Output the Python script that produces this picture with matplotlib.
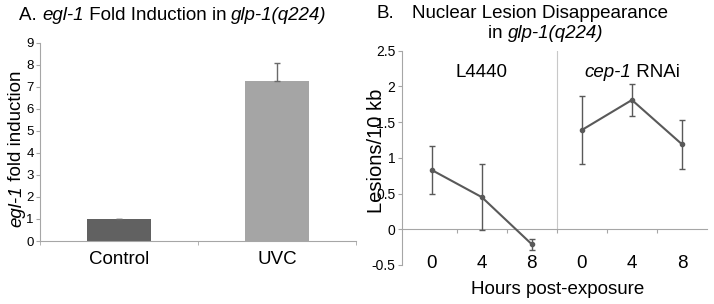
import matplotlib
matplotlib.use("Agg")
import matplotlib.pyplot as plt
import matplotlib.transforms as mtransforms
import numpy as np

plt.rcParams['font.family'] = ['Liberation Sans', 'DejaVu Sans']

# ---- Panel A data ----
a_categories = ["Control", "UVC"]
a_values = [1.0, 7.27]
a_err_up = [0.02, 0.83]
a_yticks = [0, 1, 2, 3, 4, 5, 6, 7, 8, 9]

# ---- Panel B data ----
b_hours = ["0", "4", "8"]
b_group_left = [("L4440", False)]
b_group_right = [("cep-1", True), (" RNAi", False)]
b_l4440 = [0.83, 0.45, -0.21]
b_l4440_err = [0.33, 0.46, 0.075]
b_cep1 = [1.39, 1.81, 1.19]
b_cep1_err = [0.47, 0.22, 0.34]
b_yticks = [-0.5, 0, 0.5, 1, 1.5, 2, 2.5]
b_yticklabels = ["-0.5", "0", "0.5", "1", "1.5", "2", "2.5"]

W, H = 714, 304
fig = plt.figure(figsize=(W / 100, H / 100), dpi=100)
renderer = fig.canvas.get_renderer()

def fx(x):
    return x / W

def fy(y):
    return 1 - y / H

def px_axes(l, t, r, b):
    return fig.add_axes([l / W, 1 - b / H, (r - l) / W, (b - t) / H])

def piece_width(s, italic, size):
    st = "italic" if italic else "normal"
    t1 = fig.text(0, 0, "|" + s + "|", fontsize=size, style=st)
    t2 = fig.text(0, 0, "||", fontsize=size, style=st)
    w = t1.get_window_extent(renderer).width - t2.get_window_extent(renderer).width
    t1.remove()
    t2.remove()
    return w

def rich_width(pieces, size):
    return sum(piece_width(s, it, size) for s, it in pieces)

def rich_text(x, y, pieces, size, vertical=False):
    """x, y: baseline start in pixels from top-left."""
    for s, it in pieces:
        st = "italic" if it else "normal"
        fig.text(fx(x), fy(y), s, fontsize=size, style=st,
                 rotation=90 if vertical else 0, rotation_mode="anchor",
                 ha="left", va="baseline")
        w = piece_width(s, it, size)
        if vertical:
            y -= w
        else:
            x += w

axis_gray = "#a6a6a6"
big = 13.5

# ---------------- Panel A ----------------
axA = px_axes(40, 42.7, 356, 241)
xa = np.arange(len(a_categories))
axA.bar(xa, a_values, width=0.4, color=["#616161", "#a5a5a5"], zorder=2)
axA.errorbar(xa, a_values, yerr=[np.zeros(len(a_values)), a_err_up], fmt="none",
             ecolor="#6a6a6a", elinewidth=1, capsize=2.5, capthick=1, zorder=3)
axA.set_xlim(-0.5, 1.5)
axA.set_ylim(0, 9)
axA.set_yticks(a_yticks)
axA.set_yticklabels([str(v) for v in a_yticks], fontsize=9.5)
axA.set_xticks(xa)
axA.set_xticklabels(a_categories, fontsize=big)
axA.set_xticks([-0.5, 0.5, 1.5], minor=True)
axA.tick_params(axis="x", which="major", length=0, pad=7)
axA.tick_params(axis="x", which="minor", length=3, color=axis_gray)
axA.tick_params(axis="y", length=3, color=axis_gray, pad=1.5)
for s in ["top", "right"]:
    axA.spines[s].set_visible(False)
for s in ["left", "bottom"]:
    axA.spines[s].set_color(axis_gray)
    axA.spines[s].set_linewidth(0.8)

rich_text(19, 19.5, [("A. ", False), ("egl-1", True), (" Fold Induction in ", False),
                     ("glp-1(q224)", True)], big)
rich_text(21, 227, [("egl-1", True), (" fold induction", False)], big, vertical=True)

# ---------------- Panel B ----------------
axB = px_axes(401.7, 50.7, 707, 265)
n = len(b_hours)
x_left = np.arange(n)
x_right = np.arange(n) + n
line_c = "#595959"
axB.errorbar(x_left, b_l4440, yerr=b_l4440_err, color=line_c, lw=1.5,
             marker="o", ms=3, ecolor=line_c, elinewidth=1, capsize=2, capthick=1, zorder=3)
axB.errorbar(x_right, b_cep1, yerr=b_cep1_err, color=line_c, lw=1.5,
             marker="o", ms=3, ecolor=line_c, elinewidth=1, capsize=2, capthick=1, zorder=3)
axB.set_xlim(-0.6, 2 * n - 0.5)
ymin, ymax = b_yticks[0], b_yticks[-1]
axB.set_ylim(ymin, ymax)
axB.set_yticks(b_yticks)
axB.set_yticklabels(b_yticklabels, fontsize=10)
axB.tick_params(axis="y", length=3, color=axis_gray, pad=1.5)

axB.spines["bottom"].set_position(("data", 0))
axB.set_xticks(np.arange(0.5, 2 * n - 1, 1.0))
axB.set_xticklabels([])
axB.tick_params(axis="x", which="major", length=3, color=axis_gray)
for s in ["top", "right"]:
    axB.spines[s].set_visible(False)
for s in ["left", "bottom"]:
    axB.spines[s].set_color(axis_gray)
    axB.spines[s].set_linewidth(0.8)

# hour labels along the bottom of the panel
blend = mtransforms.blended_transform_factory(axB.transData, axB.transAxes)
hour_base = (265 - 268.4) / (265 - 50.7)
for xv, lab in zip(np.concatenate([x_left, x_right]), b_hours * 2):
    axB.text(xv, hour_base, lab, transform=blend, fontsize=big,
             ha="center", va="baseline")

sep = n - 0.5
axB.axvline(sep, ymin=(0 - ymin) / (ymax - ymin), ymax=1, color="#c8c8c8", lw=0.8)

# group labels
for xs, pieces in [(x_left, b_group_left), (x_right, b_group_right)]:
    cx_disp = axB.transData.transform((np.mean(xs), 0))[0]
    cx = cx_disp  # dpi 100, figure pixels == display pixels
    w = rich_width(pieces, big)
    rich_text(cx - w / 2, 77, pieces, big)

rich_text(376.7, 18, [("B.", False)], big)
rich_text(411.7, 18, [("Nuclear Lesion Disappearance", False)], big)
rich_text(488, 38.5, [("in ", False), ("glp-1(q224)", True)], big)
rich_text(382, 213, [("Lesions/10 kb", False)], 14.5, vertical=True)
fig.text(fx(558), fy(290), "Hours post-exposure", fontsize=big,
         ha="center", va="center")

fig.savefig("out.png", dpi=100)
